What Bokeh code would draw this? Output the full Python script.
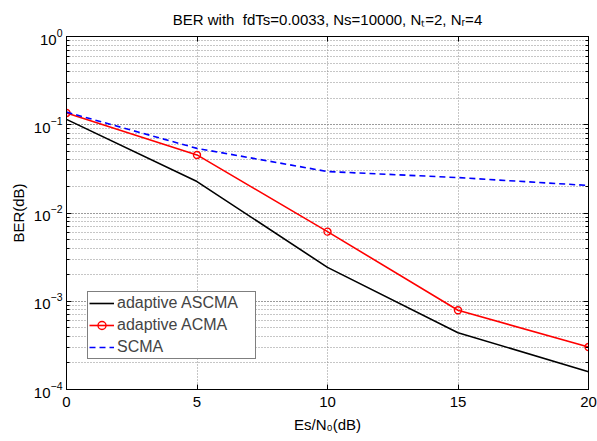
from bokeh.plotting import figure
from bokeh.models import (LogAxis, LinearAxis, Legend, LegendItem,
                          FixedTicker, Range1d, LogTicker, CustomJSTickFormatter)
from bokeh.embed import file_html
from bokeh.resources import INLINE

# ---- data ----
snr_db = [0, 5, 10, 15, 20]
ber_ascma = [0.115, 0.0227, 0.00242, 4.4e-4, 1.59e-4]
ber_acma = [0.136, 0.0455, 0.00615, 7.9e-4, 3.03e-4]
ber_scma = [0.139, 0.054, 0.0295, 0.0252, 0.0205]
x_ticks = [0, 5, 10, 15, 20]
series_names = ["adaptive ASCMA", "adaptive ACMA", "SCMA"]
title_text = "BER with\u00a0 fdTs=0.0033, Ns=10000, N\u209c=2, N\u1d63=4"
x_label = "Es/N\u2080(dB)"
y_label = "BER(dB)"

FONT = "Liberation Sans"
FS = "15px"

p = figure(x_range=Range1d(0, 20), y_range=Range1d(1e-4, 1), y_axis_type="log",
           frame_width=522, frame_height=353,
           min_border_left=66, min_border_right=9, min_border_top=36,
           min_border_bottom=50, output_backend="svg", toolbar_location=None,
           title=title_text)
p.background_fill_color = "white"
p.border_fill_color = "white"
p.outline_line_color = "black"

p.title.text_font = FONT
p.title.text_font_size = FS
p.title.text_font_style = "normal"
p.title.text_color = "black"
p.title.align = "center"
p.title.vertical_align = "top"
p.title.text_line_height = 0.8
p.title.standoff = 13

# axes
p.xaxis.ticker = FixedTicker(ticks=x_ticks)
p.xgrid.ticker = FixedTicker(ticks=x_ticks)
for ax in p.xaxis:
    ax.minor_tick_line_color = None
for ax in list(p.xaxis) + list(p.yaxis):
    ax.major_tick_in = 5
    ax.major_tick_out = 0
    ax.minor_tick_in = 3
    ax.minor_tick_out = 0
    ax.axis_line_color = "black"
    ax.major_tick_line_color = "black"
    ax.major_label_text_font = FONT
    ax.major_label_text_font_size = FS
    ax.major_label_text_color = "black"
    ax.major_label_standoff = 4
    ax.axis_label_text_font = FONT
    ax.axis_label_text_font_size = FS
    ax.axis_label_text_font_style = "normal"
    ax.axis_label_text_color = "black"
p.yaxis.axis_label = y_label
p.yaxis.axis_label_standoff = 4
p.xaxis.axis_label = x_label
p.xaxis.major_label_standoff = 7
p.xaxis.axis_label_standoff = 6
p.yaxis.ticker = LogTicker(num_minor_ticks=10)

blank = CustomJSTickFormatter(code="return ''")
top_ax = LinearAxis(ticker=FixedTicker(ticks=x_ticks), formatter=blank,
                    major_label_standoff=0,
                    major_tick_in=5, major_tick_out=0, minor_tick_line_color=None)
right_ax = LogAxis(ticker=LogTicker(num_minor_ticks=10), formatter=blank,
                   major_label_standoff=0,
                   major_tick_in=5, major_tick_out=0, minor_tick_in=3, minor_tick_out=0)
p.add_layout(top_ax, "above")
p.add_layout(right_ax, "right")

# grids
for g in (p.xgrid, p.ygrid):
    g.grid_line_color = "#8c8c8c"
    g.grid_line_dash = "1 2"
    g.grid_line_width = 1
p.ygrid.minor_grid_line_color = "#8c8c8c"
p.ygrid.minor_grid_line_dash = "1 2"

# series
r1 = p.line(snr_db, ber_ascma, line_color="black", line_width=1.6)
r2 = p.line(snr_db, ber_acma, line_color="red", line_width=1.6)
r2m = p.scatter(snr_db, ber_acma, marker="circle", size=7, line_color="red",
                fill_color=None, line_width=1.4)
r3 = p.line(snr_db, ber_scma, line_color="blue", line_width=1.6, line_dash="6 4")

legend = Legend(items=[LegendItem(label=series_names[0], renderers=[r1]),
                       LegendItem(label=series_names[1], renderers=[r2, r2m]),
                       LegendItem(label=series_names[2], renderers=[r3])],
                location=(21, 30), padding=1, spacing=2, margin=0,
                glyph_width=25, glyph_height=20, label_height=20,
                label_standoff=3, label_width=137,
                label_text_font=FONT, label_text_font_size="16px",
                border_line_color="black", border_line_width=1,
                background_fill_color="white", background_fill_alpha=1)
p.add_layout(legend, "center")

open("out.html", "w").write(file_html(p, INLINE))
